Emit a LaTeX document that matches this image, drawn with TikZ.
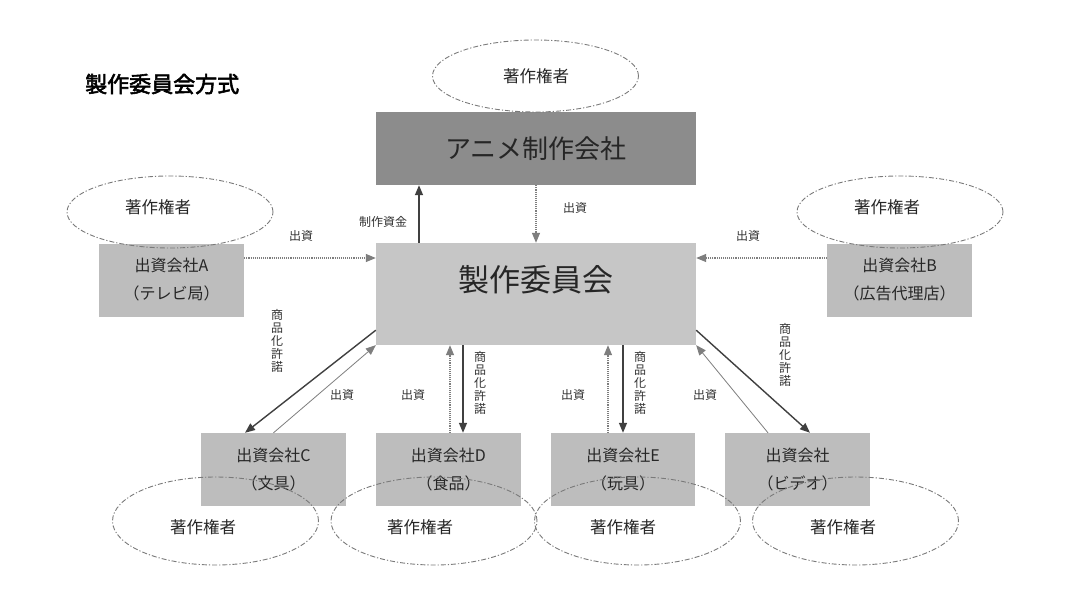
\documentclass[tikz,border=0pt]{standalone}
\usepackage{fontspec}
\setmainfont{Noto Sans CJK JP}
\newfontfamily\titlefont[FakeBold=2.5]{Noto Sans CJK JP}
\usetikzlibrary{arrows.meta,shapes.geometric}
\definecolor{darkbox}{HTML}{8C8C8C}
\definecolor{mainbox}{HTML}{C6C6C6}
\definecolor{sidebox}{HTML}{BDBDBD}
\definecolor{ellline}{HTML}{7A7A7A}
\definecolor{solidline}{HTML}{404040}
\definecolor{thinline}{HTML}{7E7E7E}
\tikzset{
  compbox/.style={draw=none, fill=sidebox, minimum width=145pt, minimum height=73pt,
    inner sep=0pt, align=center, text=black!85, font=\fontsize{16}{28}\selectfont},
  ellip/.style={ellipse, draw=ellline, line width=0.9pt,
    dash pattern=on 5pt off 2pt on 1.2pt off 2pt, minimum width=206pt, inner sep=0pt},
  elltext/.style={font=\fontsize{16.5}{18}\selectfont, text=black!85},
  lbl/.style={font=\fontsize{12}{13}\selectfont, text=black!80, inner sep=0pt},
  vlbl/.style={font=\fontsize{12}{13}\selectfont, text=black!80, align=center, inner sep=0pt},
  solidarrow/.style={draw=solidline, line width=1.4pt, -{Triangle[length=10pt,width=8pt]}},
  thinarrow/.style={draw=thinline, line width=0.8pt, -{Triangle[length=10pt,width=8pt]}},
  dotarrow/.style={draw=thinline, line width=1.1pt, densely dotted, -{Triangle[length=10pt,width=8pt]}}
}
\begin{document}
\begin{tikzpicture}[x=1pt,y=-1pt]
\fill[white] (0,0) rectangle (1080,608);
\useasboundingbox (0,0) rectangle (1080,608);

% title
\node[anchor=west, inner sep=0pt, font=\titlefont\fontsize{22}{24}\selectfont] (title) at (85,84) {製作委員会方式};

% boxes
\node[fill=darkbox, minimum width=320pt, minimum height=73pt, inner sep=0pt,
      font=\fontsize{26}{28}\selectfont, text=black!85] (anime) at (536,148.5) {アニメ制作会社};
\node[fill=mainbox, minimum width=320pt, minimum height=102pt, inner sep=0pt] (main) at (536,294) {};
\node[font=\fontsize{31}{33}\selectfont, text=black!85, inner sep=0pt] (maintext) at (536,280) {製作委員会};

\node[compbox] (A) at (171.5,280) {出資会社A\\（テレビ局）};
\node[compbox] (B) at (899.5,280) {出資会社B\\（広告代理店）};
\node[compbox] (C) at (273.5,469.5) {出資会社C\\（文具）};
\node[compbox] (D) at (448.5,469.5) {出資会社D\\（食品）};
\node[compbox, minimum width=144pt] (E) at (623,469.5) {出資会社E\\（玩具）};
\node[compbox] (F) at (797.5,469.5) {出資会社\\（ビデオ）};

% ellipses
\node[ellip, minimum height=72pt] (etop) at (535.5,76) {};
\node[elltext] (ttop) at (536,76) {著作権者};
\node[ellip, minimum height=72pt] (eA) at (170,212) {};
\node[elltext] (tA) at (158,207) {著作権者};
\node[ellip, minimum height=72pt] (eB) at (900,212) {};
\node[elltext] (tB) at (887,207) {著作権者};
\node[ellip, minimum height=88pt] (eC) at (215.5,521) {};
\node[elltext] (tC) at (203,527) {著作権者};
\node[ellip, minimum height=88pt] (eD) at (434,521) {};
\node[elltext] (tD) at (420,527) {著作権者};
\node[ellip, minimum height=88pt] (eE) at (637.5,521) {};
\node[elltext] (tE) at (623,527) {著作権者};
\node[ellip, minimum height=88pt] (eF) at (855.5,521) {};
\node[elltext] (tF) at (843,527) {著作権者};

% top arrows
\draw[solidarrow] ([xshift=-117pt]main.north) -- ([xshift=-117pt]anime.south);
\node[lbl] (l1) at (383,222) {制作資金};
\draw[dotarrow] (anime.south) -- (main.north);
\node[lbl] (l2) at (575,208) {出資};

% side arrows
\coordinate (aE) at ([yshift=22pt]A.east);
\coordinate (bW) at ([yshift=22pt]B.west);
\draw[dotarrow] (aE) -- (aE -| main.west);
\node[lbl] (l3) at (301,236) {出資};
\draw[dotarrow] (bW) -- (bW -| main.east);
\node[lbl] (l4) at (748,236) {出資};

% C
\draw[solidarrow] ([yshift=15pt]main.south west) -- ([xshift=-28.5pt]C.north);
\draw[thinarrow] (C.north) -- (main.south west);
\node[vlbl] (l5) at (277,341) {商\\品\\化\\許\\諾};
\node[lbl] (l6) at (342,395) {出資};

% D
\coordinate (dL) at ([xshift=1.5pt]D.north);
\coordinate (dR) at ([xshift=14.5pt]D.north);
\draw[dotarrow] (dL) -- (dL |- main.south);
\draw[solidarrow] (dR |- main.south) -- (dR);
\node[lbl] (l7) at (413,395) {出資};
\node[vlbl] (l8) at (480,383) {商\\品\\化\\許\\諾};

% E
\coordinate (eL) at ([xshift=-15pt]E.north);
\draw[dotarrow] (eL) -- (eL |- main.south);
\draw[solidarrow] (E.north |- main.south) -- (E.north);
\node[lbl] (l9) at (573,395) {出資};
\node[vlbl] (l10) at (640,383) {商\\品\\化\\許\\諾};

% F
\draw[solidarrow] ([yshift=15pt]main.south east) -- ([xshift=12.5pt]F.north);
\draw[thinarrow] ([xshift=-29.5pt]F.north) -- (main.south east);
\node[lbl] (l11) at (705,395) {出資};
\node[vlbl] (l12) at (785,355) {商\\品\\化\\許\\諾};
\end{tikzpicture}
\end{document}
